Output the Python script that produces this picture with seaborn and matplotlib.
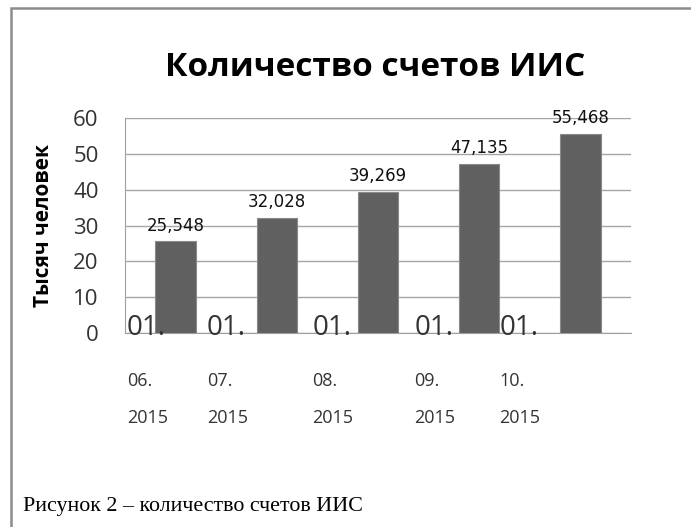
import pandas as pd
import seaborn as sns
import numpy as np
import matplotlib.pyplot as plt
from matplotlib.patches import Rectangle
from matplotlib.ticker import MultipleLocator
import matplotlib.transforms as mtransforms

# data (тысяч человек)
dates = ['01.06.2015', '01.07.2015', '01.08.2015', '01.09.2015', '01.10.2015']
accounts = [25.548, 32.028, 39.269, 47.135, 55.468]
label_day = ['01.', '01.', '01.', '01.', '01.']
label_month = ['06.', '07.', '08.', '09.', '10.']
label_year = ['2015', '2015', '2015', '2015', '2015']

data = pd.DataFrame({'Date': dates, 'Accounts': accounts})

sns.set_style('white')
plt.rcParams['font.family'] = ['Open Sans', 'DejaVu Sans']

fig = plt.figure(figsize=(6.91, 5.27), dpi=100)
ax = fig.add_axes([125/691, 1-333/527, 506/691, 215/527])

sns.barplot(x='Date', y='Accounts', data=data, color='#606060', width=0.4,
            edgecolor='#8a8a8a', linewidth=0.8, saturation=1, ax=ax, zorder=3)

ax.set_ylim(0, 60)
ax.set_xlim(-0.5, 4.5)
ax.yaxis.set_major_locator(MultipleLocator(10))
ax.yaxis.set_minor_locator(MultipleLocator(2))
ax.grid(axis='y', color='#a6a6a6', linewidth=1, zorder=0)
ax.set_axisbelow(True)
for s in ['top', 'right']:
    ax.spines[s].set_visible(False)
ax.spines['left'].set_color('#a0a0a0')
ax.spines['bottom'].set_color('#a0a0a0')
ax.tick_params(axis='y', which='both', direction='in', color='#a0a0a0',
               labelsize=16, labelcolor='#333333', pad=19)
ax.tick_params(axis='y', which='major', length=7)
ax.tick_params(axis='y', which='minor', length=6)
ax.tick_params(axis='x', length=0)
ax.set_xticks(range(len(dates)))
ax.set_xticklabels([''] * len(dates))
ax.set_xlabel('')
ax.set_ylabel('Тысяч человек', fontsize=15, fontweight='bold', labelpad=14,
              color='black')

bar_text = [f'{v:.3f}'.replace('.', ',') for v in accounts]
ax.bar_label(ax.containers[0], labels=bar_text, padding=5, fontsize=12,
             color='#111111', family=['DejaVu Sans'])

# weirdly wrapped date labels
offsets = [-0.48, -0.69, -0.65, -0.64, -0.80]
trans = mtransforms.blended_transform_factory(ax.transData, fig.transFigure)
for i in range(len(dates)):
    x = i + offsets[i]
    ax.text(x, 1-335/527, label_day[i], transform=trans, fontsize=20,
            color='#333333', ha='left', va='baseline', zorder=5)
    ax.text(x, 1-381/527, label_month[i], transform=trans, fontsize=13,
            color='#333333', ha='left', va='center')
    ax.text(x, 1-418/527, label_year[i], transform=trans, fontsize=13,
            color='#333333', ha='left', va='center')

fig.text(375/691, 1-67/527, 'Количество счетов ИИС', fontsize=24,
         fontweight='bold', ha='center', va='center', color='black')

fig.text(23/691, 1-506/527, 'Рисунок 2 – количество счетов ИИС',
         family=['Liberation Serif'], fontsize=15.8, ha='left', va='center',
         color='black')

fig.patches.append(Rectangle((11/691, -0.1), 1.2, 1 - 8/527 + 0.1,
                             transform=fig.transFigure, fill=False,
                             edgecolor='#8c8c8c', linewidth=1.8))

plt.savefig('out.png', dpi=100)
